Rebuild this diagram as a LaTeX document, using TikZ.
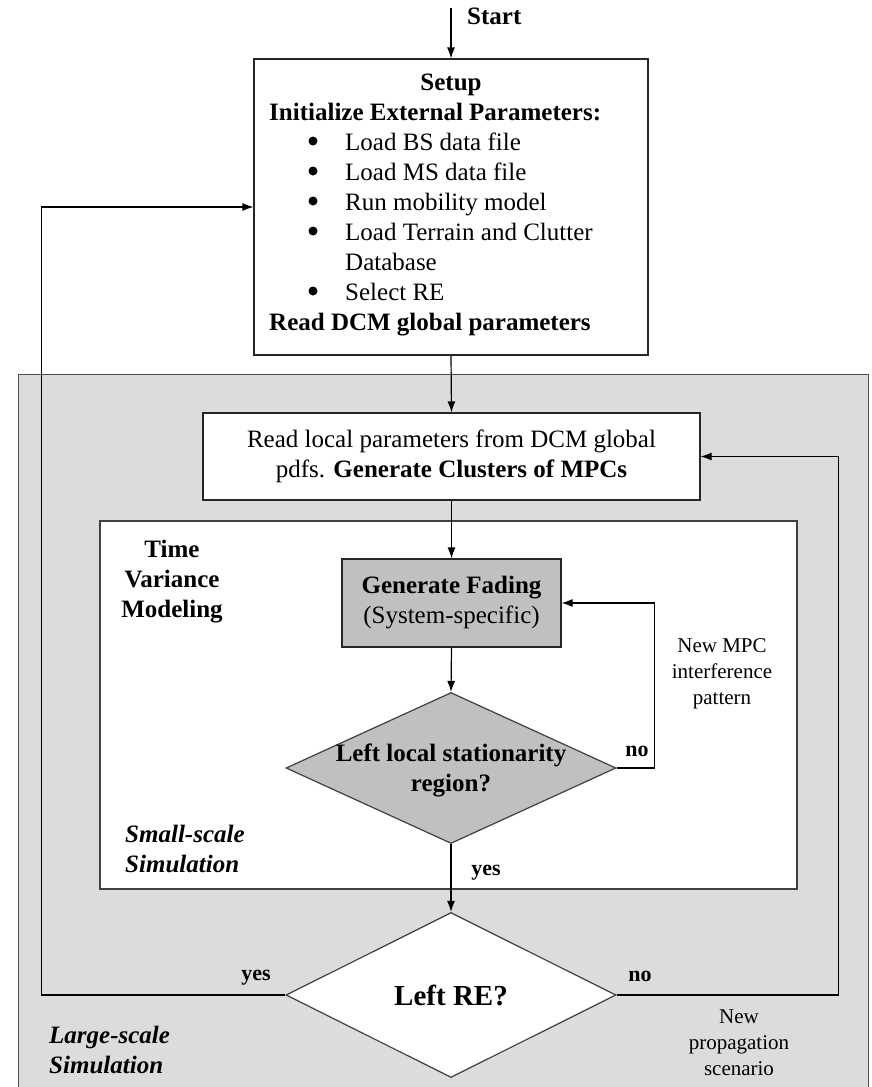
\documentclass[tikz,border=0pt]{standalone}
\usepackage{fontspec}
\setmainfont{Liberation Serif}
\usetikzlibrary{shapes.geometric,arrows.meta}
\definecolor{bggray}{RGB}{220,220,220}
\definecolor{boxgray}{RGB}{192,192,192}
\begin{document}
\begin{tikzpicture}[x=1pt, y=-1pt,
        box/.style={draw=black!85, line width=1.2pt, rectangle, inner sep=0pt},
        decision/.style={draw=black!75, line width=1.2pt, diamond, inner sep=0pt},
        txt/.style={inner sep=0pt, align=center, font=\fontsize{25}{30}\selectfont},
        note/.style={inner sep=0pt, align=center, font=\fontsize{21}{26}\selectfont},
        yesno/.style={inner sep=0pt, font=\fontsize{22}{26}\selectfont\bfseries},
        arr/.style={line width=1.2pt, -{Latex[length=11pt,width=8pt]}}]
        \clip (0,0) rectangle (872,1087);
        % large-scale region (runs off the bottom)
        \draw[fill=bggray, draw=black!70, line width=1pt] (18,1100) -- (18,374) -- (868,374) -- (868,1100);
        % small-scale region
        \draw[fill=white, draw=black!75, line width=1.2pt] (100,521) rectangle (797,889);

        % boxes and decisions
        \coordinate (start) at (451,8);
        \node[box, minimum width=394pt, minimum height=296pt] (setup) at (451,207) {};
        \node[box, fill=white, minimum width=497pt, minimum height=87pt, txt] (read) at (451.5,456.5)
            {Read local parameters from DCM global\\pdfs. \textbf{Generate Clusters of MPCs}};
        \node[box, fill=boxgray, minimum width=219pt, minimum height=88pt, txt] (fading) at (451.5,603)
            {\textbf{Generate Fading}\\(System-specific)};
        \node[decision, fill=boxgray, minimum width=330pt, minimum height=151pt] (stat) at (451,768) {};
        \node[txt] (stattext) at (451,770) {\textbf{Left local stationarity}\\\textbf{region?}};
        \node[decision, fill=white, minimum width=330pt, minimum height=165pt] (leftre) at (451,995) {};
        \node[txt, font=\fontsize{29}{34}\selectfont\bfseries] (lefttext) at (451,995) {Left RE?};

        % setup box contents
        \node[txt, anchor=base] (setuphead) at (451,90) {\textbf{Setup}};
        \node[txt, anchor=base west] (initext) at (269,120) {\textbf{Initialize External Parameters:}};
        \node[txt, anchor=base west] (bsfile) at (345,150) {Load BS data file};
        \node[txt, anchor=base west] (msfile) at (345,180) {Load MS data file};
        \node[txt, anchor=base west] (mobility) at (345,210) {Run mobility model};
        \node[txt, anchor=base west] (terrain) at (345,240) {Load Terrain and Clutter};
        \node[txt, anchor=base west] (database) at (345,270) {Database};
        \node[txt, anchor=base west] (selectre) at (345,300) {Select RE};
        \node[txt, anchor=base west] (readdcm) at (269,330) {\textbf{Read DCM global parameters}};
        % bullets
        \fill (313,141) circle (4.5pt);
        \fill (313,171) circle (4.5pt);
        \fill (313,201) circle (4.5pt);
        \fill (313,231) circle (4.5pt);
        \fill (313,291) circle (4.5pt);

        % main flow
        \draw[arr] (start) -- (setup.north);
        \node[txt, anchor=west] (starttext) at (467,16) {\textbf{Start}};
        \draw[arr] (setup.south) -- (read.north);
        \draw[arr] (read.south) -- (fading.north);
        \draw[arr] (fading.south) -- (stat.north);
        \draw[arr] (stat.south) -- (leftre.north);
        \node[yesno] (yessmall) at (486,873) {yes};

        % loops back
        \draw[arr] (stat.east) -- ++(38,0) |- (fading.east);
        \node[yesno] (nosmall) at (637,751) {no};
        \draw[arr] (leftre.west) -- ++(-244,0) |- (setup.west);
        \node[yesno] (yeslarge) at (256,978) {yes};
        \draw[arr] (leftre.east) -- ++(222,0) |- (read.east);
        \node[yesno] (nolarge) at (640,976) {no};

        % side labels
        \node[txt] (timevar) at (172,582) {\textbf{Time}\\\textbf{Variance}\\\textbf{Modeling}};
        \node[txt, anchor=west, align=left] (smallsim) at (125,849) {\textbf{\itshape Small-scale}\\\textbf{\itshape Simulation}};
        \node[txt, anchor=west, align=left] (largesim) at (49,1050) {\textbf{\itshape Large-scale}\\\textbf{\itshape Simulation}};
        \node[note] (mpcnote) at (722,674) {New MPC\\interference\\pattern};
        \node[note] (propnote) at (739,1043) {New\\propagation\\scenario};
\end{tikzpicture}
\end{document}
